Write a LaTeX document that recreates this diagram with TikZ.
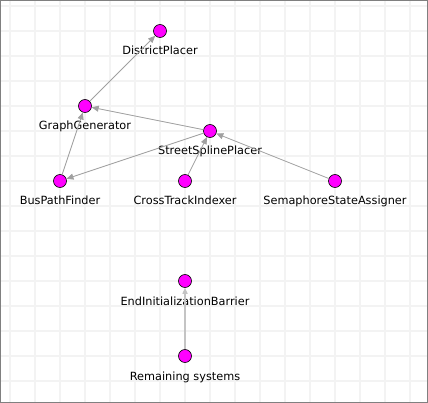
\documentclass[tikz,border=0pt]{standalone}
\usepackage{fontspec}
\setmainfont{DejaVu Sans}
\usetikzlibrary{arrows.meta}
\definecolor{gridc}{HTML}{F3F3F3}
\definecolor{framec}{HTML}{808080}
\definecolor{edgec}{HTML}{A0A0A0}
\definecolor{edgec2}{HTML}{C4C4C4}
\definecolor{nodec}{HTML}{FF00FF}
\tikzset{
  sysnode/.style={circle, draw=black, line width=0.6pt, fill=nodec, minimum size=13pt, inner sep=0pt},
  syslabel/.style={anchor=base, inner sep=0pt, font=\fontsize{11.3}{13}\selectfont},
  dep/.style={draw=edgec, line width=0.8pt, -{Triangle[length=7pt,width=6pt,fill=edgec]}},
  dep2/.style={draw=edgec2, line width=1.8pt, -{Triangle[length=6pt,width=5pt,fill=edgec]}},
}
\begin{document}
\begin{tikzpicture}[x=1pt,y=-1pt]
\useasboundingbox (0,0) rectangle (428,403);
\fill[white] (0,0) rectangle (428,403);
% grid
\foreach \gx in {10,35,...,410} \draw[gridc, line width=1.5pt] (\gx,0) -- (\gx,403);
\foreach \gy in {6,31,...,381} \draw[gridc, line width=1.5pt] (0,\gy) -- (428,\gy);
\draw[framec, line width=1pt] (0.5,0.5) rectangle (427.5,402.5);
% nodes
\node[sysnode] (dp) at (160,31) {};
\node[sysnode] (gg) at (85,106) {};
\node[sysnode] (ssp) at (210,131) {};
\node[sysnode] (bpf) at (60,181) {};
\node[sysnode] (cti) at (185,181) {};
\node[sysnode] (ssa) at (335,181) {};
\node[sysnode] (eib) at (185,281) {};
\node[sysnode] (rs) at (185,356) {};
% labels
\node[syslabel] (ldp) at (160,55) {DistrictPlacer};
\node[syslabel] (lgg) at (85,130) {GraphGenerator};
\node[syslabel] (lssp) at (210,155) {StreetSplinePlacer};
\node[syslabel] (lbpf) at (60,205) {BusPathFinder};
\node[syslabel] (lcti) at (185,205) {CrossTrackIndexer};
\node[syslabel] (lssa) at (335,205) {SemaphoreStateAssigner};
\node[syslabel] (leib) at (185,305) {EndInitializationBarrier};
\node[syslabel] (lrs) at (185,380) {Remaining systems};
% edges
\draw[dep] (gg) -- (dp);
\draw[dep] (ssp) -- (gg);
\draw[dep] (bpf) -- (gg);
\draw[dep] (ssp) -- (bpf);
\draw[dep] (cti) -- (ssp);
\draw[dep] (ssa) -- (ssp);
\draw[dep2] (rs) -- (eib);
\end{tikzpicture}
\end{document}
